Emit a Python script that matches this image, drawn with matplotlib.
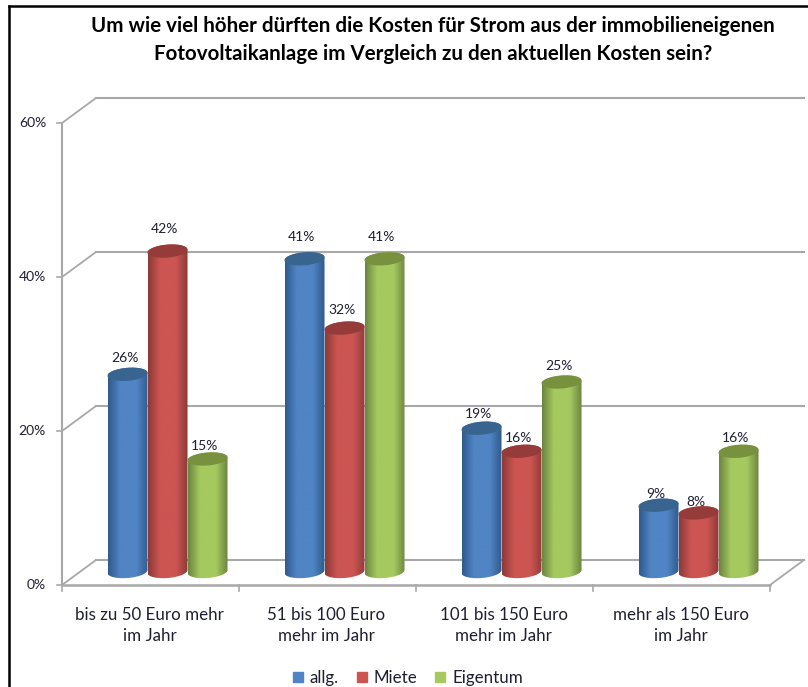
import numpy as np
import matplotlib
matplotlib.use('Agg')
import matplotlib.pyplot as plt
from matplotlib.colors import LinearSegmentedColormap
from matplotlib.patches import Patch, Polygon

plt.rcParams['font.family'] = ['Lato', 'DejaVu Sans']

# Daten
categories = ['bis zu 50 Euro mehr\nim Jahr', '51 bis 100 Euro\nmehr im Jahr',
              '101 bis 150 Euro\nmehr im Jahr', 'mehr als 150 Euro\nim Jahr']
series_names = ['allg.', 'Miete', 'Eigentum']
allg = [26, 41, 19, 9]
miete = [42, 32, 16, 8]
eigentum = [15, 41, 25, 16]
y_ticks = [0, 20, 40, 60]
title = ('Um wie viel höher dürften die Kosten für Strom aus der immobilieneigenen\n'
         'Fotovoltaikanlage im Vergleich zu den aktuellen Kosten sein?')

# Farben: Mitte, Rand, Deckel
colors = [('#5084C4', '#2F5A8C', '#38648F'),
          ('#CC5552', '#8C3A38', '#953B39'),
          ('#A5C95F', '#6C8440', '#77913F')]
grid_color = '#A8A8A8'
text_color = '#1E1E33'

# Pixel pro Einheit im Bild
W, H = 808, 687
px_x, px_y = 177.0, 7.7
x0_px, y0_px = 62, 585
depth_x, depth_y = 34 / px_x, 25 / px_y
bar_w = 40 / px_x
ell_h = 6.5 / px_y
tilt = 1.5 / px_y

fig = plt.figure(figsize=(W / 100, H / 100), dpi=100)
ax = fig.add_axes([0, 0, 1, 1])
xlim = (-x0_px / px_x, (W - x0_px) / px_x)
ylim = ((y0_px - H) / px_y, y0_px / px_y)
ax.axis('off')

n = len(categories)
right = n
# Rückwand, Seitenwand
for t in y_ticks:
    ax.plot([depth_x, 3.999 + depth_x], [t + depth_y, t + depth_y], color=grid_color, lw=1.5, zorder=1)
    ax.plot([0, depth_x], [t, t + depth_y], color=grid_color, lw=1.3, zorder=1)
    ax.plot([-5 / px_x, 0], [t, t], color=grid_color, lw=1.2, zorder=1)
    ax.text(-16 / px_x, t, f'{t}%', ha='right', va='center', fontsize=10, color=text_color)
ax.plot([0, 0], [0, y_ticks[-1]], color=grid_color, lw=1.5, zorder=1)
ax.plot([0, right], [0, 0], color=grid_color, lw=1.8, zorder=1)
ax.plot([right, right + depth_x], [0, depth_y], color=grid_color, lw=1.3, zorder=1)
for i in range(n + 1):
    ax.plot([i, i], [0, -6 / px_y], color=grid_color, lw=1.2, zorder=1)

for i, cat in enumerate(categories):
    ax.text(i + 0.5 - 1 / px_x, -22 / px_y, cat, ha='center', va='top', fontsize=12.2,
            color=text_color, linespacing=1.4)


def ellipse_xy(cx, cy, t):
    return cx + bar_w / 2 * np.cos(t), cy + ell_h * np.sin(t) + tilt * np.cos(t)


# Zylinder
all_series = [allg, miete, eigentum]
grad_x = np.linspace(0, 1, 128)
z = 3
for i in range(n):
    for s, values in enumerate(all_series):
        v = values[i]
        mid, edge, top = colors[s]
        cx = i + 0.5 + depth_x / 2 + (s - 1) * bar_w
        cy = depth_y / 2 - 2.0 / px_y
        t_bot = np.linspace(np.pi, 2 * np.pi, 40)
        t_top = np.linspace(0, np.pi, 40)
        # Boden etwas höher als die Deckel-Rechnung, sonst hängt er unter der Kante
        bx, by = ellipse_xy(cx, cy + 3 / px_y, t_bot)
        tx, ty = ellipse_xy(cx, cy + v, t_top)
        body = Polygon(np.column_stack([np.r_[bx, tx], np.r_[by, ty]]), closed=True,
                       transform=ax.transData, fc='none', ec='none')
        ax.add_patch(body)
        cmap = LinearSegmentedColormap.from_list('c', [edge, mid, mid, edge], N=128)
        shade = np.interp(grad_x, [0, 0.4, 0.6, 1], [0, 0.45, 0.55, 1]).reshape(1, -1)
        im = ax.imshow(shade, cmap=cmap, aspect='auto', vmin=0, vmax=1, zorder=z,
                       extent=(cx - bar_w / 2, cx + bar_w / 2, cy - 2, cy + v + 2),
                       interpolation='bilinear')
        im.set_clip_path(body)
        t_all = np.linspace(0, 2 * np.pi, 80)
        ex, ey = ellipse_xy(cx, cy + v, t_all)
        ax.add_patch(Polygon(np.column_stack([ex, ey]), closed=True, fc=top, ec='none', zorder=z + 0.5))
        # Beschriftung sitzt bei hohen Säulen etwas weiter oben
        label_off = (8 + 0.33 * v) / px_y
        ax.text(cx - 3 / px_x, cy + v + label_off, f'{v}%', ha='center', va='center',
                fontsize=10, color=text_color, zorder=20)
        z += 1

# Rahmen
ax.plot([(9 - x0_px) / px_x] * 2, [ylim[0], (y0_px - 6) / px_y], color='black', lw=1.8, zorder=30)
ax.plot([(9 - x0_px) / px_x, xlim[1]], [(y0_px - 6) / px_y] * 2, color='black', lw=1.8, zorder=30)

ax.text((433 - x0_px) / px_x, (y0_px - 40) / px_y, title, ha='center', va='center', fontsize=14.8,
        fontweight='bold', color='black', linespacing=1.55)

handles = [Patch(color=colors[s][0], label=series_names[s]) for s in range(3)]
ax.legend(handles=handles, loc='center', bbox_to_anchor=(408 / W, 1 - 678 / H), ncol=3, frameon=False,
          fontsize=12.2, handlelength=0.6, handleheight=0.6, handletextpad=0.4, columnspacing=1.05,
          labelcolor=text_color, borderpad=0)

ax.set_xlim(xlim)
ax.set_ylim(ylim)

fig.savefig('out.png', dpi=100)
